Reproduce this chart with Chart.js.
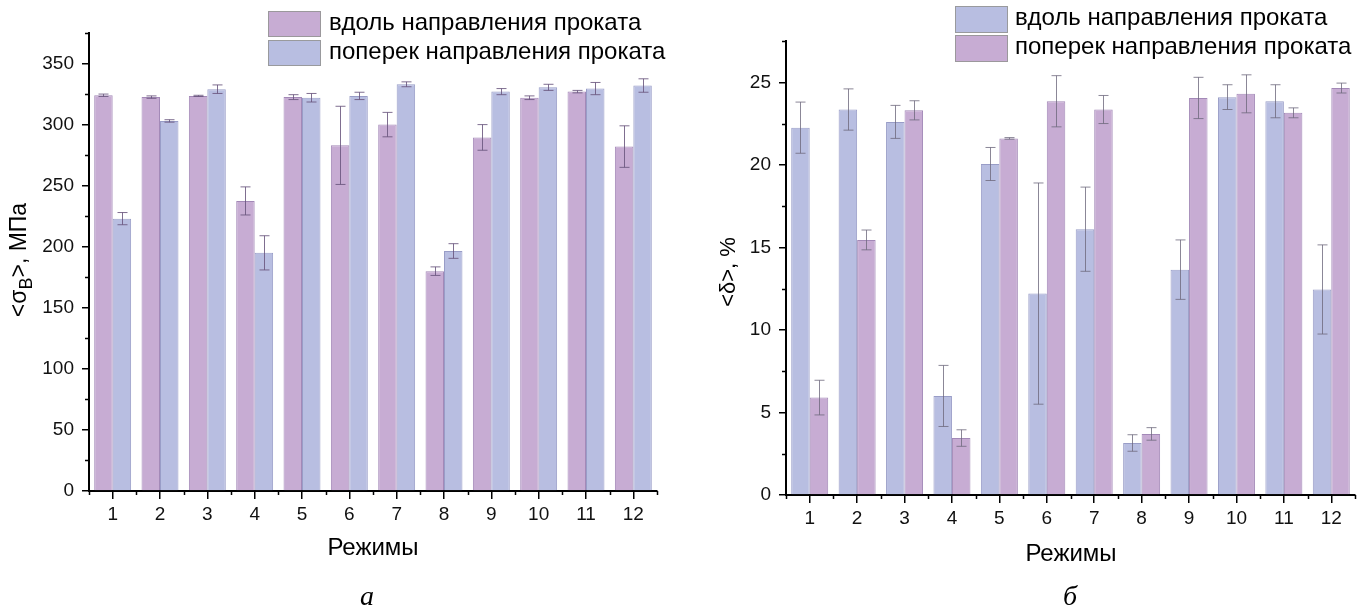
<!DOCTYPE html>
<html>
<head>
<meta charset="utf-8">
<script src="https://cdn.jsdelivr.net/npm/chart.js@4.4.1/dist/chart.umd.min.js"></script>
<style>
  html, body { margin: 0; padding: 0; background: #ffffff; }
  #wrap { position: relative; width: 1360px; height: 614px; overflow: hidden; }
  .pane { position: absolute; top: 0; width: 680px; height: 614px; }
</style>
</head>
<body>
<div id="wrap">
  <div class="pane" style="left:0"><canvas id="strength" width="680" height="614"></canvas></div>
  <div class="pane" style="left:680px"><canvas id="elongation" width="680" height="614"></canvas></div>
</div>
<script>
// Processing regimes (x categories)
const regimes = ['1', '2', '3', '4', '5', '6', '7', '8', '9', '10', '11', '12'];
const seriesNames = ['вдоль направления проката', 'поперек направления проката'];

// Ultimate tensile strength <σB>, MPa, with half-width of the error bars
const strengthAlong     = [324, 322.5, 323.5, 237.5, 322.5, 283, 300, 180, 289.5, 322, 327, 282];
const strengthAlongErr  = [1, 1, 0.5, 11.5, 2, 32, 10, 3.5, 10.5, 1.5, 1, 17];
const strengthAcross    = [223, 303, 329, 195, 322, 323.5, 333, 196.5, 327, 330.5, 329.5, 332];
const strengthAcrossErr = [5, 1, 3.5, 14, 3.5, 3, 2, 6, 2.5, 2.5, 5, 5.5];
const strengthTicks     = [0, 50, 100, 150, 200, 250, 300, 350];

// Relative elongation <δ>, %, with half-width of the error bars
const elongAlong     = [22.25, 23.35, 22.6, 6.0, 20.05, 12.2, 16.1, 3.15, 13.65, 24.1, 23.85, 12.45];
const elongAlongErr  = [1.55, 1.25, 1.0, 1.85, 1.0, 6.7, 2.55, 0.5, 1.8, 0.75, 1.0, 2.7];
const elongAcross    = [5.9, 15.45, 23.3, 3.45, 21.6, 23.85, 23.35, 3.7, 24.05, 24.3, 23.15, 24.65];
const elongAcrossErr = [1.05, 0.6, 0.58, 0.5, 0.05, 1.55, 0.85, 0.38, 1.25, 1.15, 0.3, 0.3];
const elongTicks     = [0, 5, 10, 15, 20, 25];

const LILAC = '#c7acd3';
const LILAC_EDGE = 'rgba(140,108,165,0.8)';
const BLUE = '#b8bee1';
const BLUE_EDGE = 'rgba(128,133,185,0.8)';
const SANS = "'Liberation Sans', Arial, sans-serif";
const SERIF = "'Liberation Serif', 'Times New Roman', serif";

// Symmetric error bars drawn on top of each bar
const errorBars = {
  id: 'errorBars',
  afterDatasetsDraw(chart, args, opts) {
    const ctx = chart.ctx, y = chart.scales.y;
    ctx.save();
    ctx.strokeStyle = opts.color;
    ctx.lineWidth = 1;
    chart.data.datasets.forEach((ds, d) => {
      const meta = chart.getDatasetMeta(d);
      meta.data.forEach((bar, i) => {
        const v = ds.data[i], e = ds.errors[i];
        const x = Math.round(bar.x) + 0.5;
        const yt = y.getPixelForValue(v + e), yb = y.getPixelForValue(v - e);
        ctx.beginPath();
        ctx.moveTo(x, yt); ctx.lineTo(x, yb);
        ctx.moveTo(x - 5, yt); ctx.lineTo(x + 5, yt);
        ctx.moveTo(x - 5, yb); ctx.lineTo(x + 5, yb);
        ctx.stroke();
      });
    });
    ctx.restore();
  }
};

// Minor ticks: halfway between value ticks, and on category boundaries
const minorTicks = {
  id: 'minorTicks',
  afterDraw(chart) {
    const ctx = chart.ctx, xs = chart.scales.x, ys = chart.scales.y;
    const area = chart.chartArea;
    ctx.save();
    ctx.strokeStyle = '#000';
    ctx.lineWidth = 1.5;
    ctx.beginPath();
    const t = ys.ticks.map(k => k.value);
    const step = t[1] - t[0];
    for (let v = t[0] + step / 2; v <= ys.max + 1e-9; v += step) {
      const py = Math.round(ys.getPixelForValue(v)) + 0.5;
      ctx.moveTo(area.left, py); ctx.lineTo(area.left - 4, py);
    }
    const n = chart.data.labels.length;
    for (let i = 0; i <= n; i++) {
      const px = Math.round(xs.getPixelForValue(i - 0.5)) + 0.5;
      ctx.moveTo(px, area.bottom); ctx.lineTo(px, area.bottom + 4);
    }
    ctx.stroke();
    ctx.restore();
  }
};

// Legend, axis titles and panel caption
const decorations = {
  id: 'decorations',
  afterDraw(chart, args, o) {
    const ctx = chart.ctx;
    ctx.save();
    // legend
    chart.data.datasets.forEach((ds, d) => {
      const bx = o.legend.x, by = o.legend.y + d * o.legend.row;
      ctx.fillStyle = ds.backgroundColor;
      ctx.fillRect(bx, by, o.legend.w, o.legend.h);
      ctx.strokeStyle = 'rgba(150,150,150,0.9)';
      ctx.lineWidth = 1;
      ctx.strokeRect(bx + 0.5, by + 0.5, o.legend.w - 1, o.legend.h - 1);
      ctx.fillStyle = '#000';
      ctx.font = `${o.legend.font}px ${SANS}`;
      ctx.textAlign = 'left';
      ctx.textBaseline = 'middle';
      ctx.fillText(ds.label, o.legend.tx, by + o.legend.h / 2 - 1);
    });
    // x title
    ctx.font = `${o.xTitle.font}px ${SANS}`;
    ctx.textAlign = 'center';
    ctx.textBaseline = 'middle';
    ctx.fillText(o.xTitle.text, o.xTitle.x, o.xTitle.y);
    // y title, rotated, with optional subscript
    ctx.save();
    ctx.translate(o.yTitle.x, o.yTitle.y);
    ctx.rotate(-Math.PI / 2);
    const parts = o.yTitle.parts;
    const fonts = parts.map(p => `${p.sub ? Math.round(o.yTitle.font * 0.78) : o.yTitle.font}px ${SANS}`);
    let total = 0;
    parts.forEach((p, k) => { ctx.font = fonts[k]; total += ctx.measureText(p.text).width; });
    let cx = -total / 2;
    ctx.textAlign = 'left';
    ctx.textBaseline = 'middle';
    parts.forEach((p, k) => {
      ctx.font = fonts[k];
      ctx.fillText(p.text, cx, p.sub ? o.yTitle.font * 0.3 : 0);
      cx += ctx.measureText(p.text).width;
    });
    ctx.restore();
    // caption
    ctx.font = `italic ${o.caption.font}px ${SERIF}`;
    ctx.textAlign = 'center';
    ctx.fillText(o.caption.text, o.caption.x, o.caption.y);
    ctx.restore();
  }
};

function makeChart(id, cfg) {
  return new Chart(document.getElementById(id), {
    type: 'bar',
    data: {
      labels: regimes,
      datasets: [
        { label: seriesNames[0], data: cfg.along, errors: cfg.alongErr,
          backgroundColor: cfg.colors[0], borderColor: cfg.edges[0], borderWidth: 1 },
        { label: seriesNames[1], data: cfg.across, errors: cfg.acrossErr,
          backgroundColor: cfg.colors[1], borderColor: cfg.edges[1], borderWidth: 1 }
      ]
    },
    options: {
      responsive: false,
      animation: false,
      datasets: { bar: { categoryPercentage: 0.78, barPercentage: 1.0 } },
      layout: { padding: cfg.padding },
      plugins: {
        legend: { display: false },
        tooltip: { enabled: false },
        errorBars: { color: cfg.errColor },
        decorations: cfg.deco
      },
      scales: {
        x: {
          grid: { display: true, drawOnChartArea: false, offset: false, tickLength: 8, color: '#000', lineWidth: 1.5 },
          border: { color: '#000', width: 2 },
          ticks: { color: '#111', font: { family: SANS, size: 19 }, padding: 4, maxRotation: 0 },
          afterFit: s => { s.height = cfg.xHeight; }
        },
        y: {
          min: 0, max: cfg.max,
          afterBuildTicks: s => { s.ticks = cfg.ticks.map(v => ({ value: v })); },
          grid: { display: true, drawOnChartArea: false, tickLength: 7, color: '#000', lineWidth: 1.5 },
          border: { color: '#000', width: 2 },
          ticks: { color: '#111', font: { family: SANS, size: 19 }, padding: 8 },
          afterFit: s => { s.width = cfg.yWidth; }
        }
      }
    },
    plugins: [errorBars, minorTicks, decorations]
  });
}

makeChart('strength', {
  along: strengthAlong, alongErr: strengthAlongErr,
  across: strengthAcross, acrossErr: strengthAcrossErr,
  colors: [LILAC, BLUE], edges: [LILAC_EDGE, BLUE_EDGE], errColor: 'rgba(105,85,125,0.85)',
  max: 375, ticks: strengthTicks,
  padding: { top: 33, right: 23, left: 0, bottom: 0 }, yWidth: 89, xHeight: 123,
  deco: {
    legend: { x: 268, y: 11, row: 29, w: 53, h: 26, tx: 329, font: 24 },
    xTitle: { text: 'Режимы', x: 373, y: 548, font: 24 },
    yTitle: { x: 20, y: 260, font: 23, parts: [{ text: '<σ' }, { text: 'B', sub: true }, { text: '>, МПа' }] },
    caption: { text: 'а', x: 367, y: 598, font: 28 }
  }
});

makeChart('elongation', {
  along: elongAlong, alongErr: elongAlongErr,
  across: elongAcross, acrossErr: elongAcrossErr,
  colors: [BLUE, LILAC], edges: [BLUE_EDGE, LILAC_EDGE], errColor: 'rgba(110,105,125,0.8)',
  max: 27.5, ticks: elongTicks,
  padding: { top: 41, right: 5, left: 0, bottom: 0 }, yWidth: 106, xHeight: 119,
  deco: {
    legend: { x: 275, y: 6, row: 29, w: 53, h: 27, tx: 335, font: 24 },
    xTitle: { text: 'Режимы', x: 391, y: 554, font: 24 },
    yTitle: { x: 49, y: 272, font: 22, parts: [{ text: '<δ>, %' }] },
    caption: { text: 'б', x: 390, y: 598, font: 28 }
  }
});
</script>
</body>
</html>
